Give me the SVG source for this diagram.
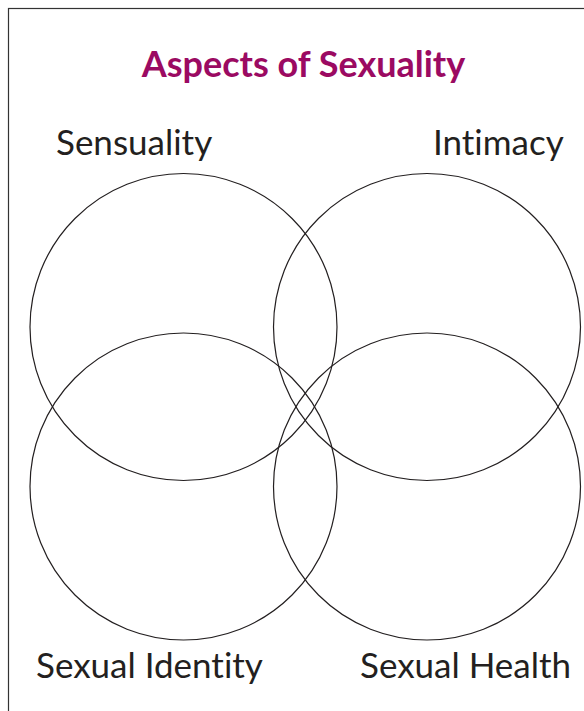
<svg xmlns="http://www.w3.org/2000/svg" width="584" height="711" viewBox="0 0 584 711">
  <style>
    .frame { fill: none; stroke: #333; stroke-width: 1.2; }
    .ring { fill: none; stroke: #231f20; stroke-width: 1.2; }
    text { font-variant-ligatures: none; }
    .title { font-family: Lato, "Open Sans", sans-serif; font-weight: bold; font-size: 36px; fill: #9b0a62; text-anchor: middle; }
    .label { font-family: Lato, "Open Sans", sans-serif; font-size: 35px; fill: #231f20; }
  </style>
  <rect width="584" height="711" fill="#fff"/>
  <!-- outer frame, running off the right and bottom edges -->
  <rect class="frame" x="8.5" y="8.5" width="600" height="720"/>
  <text class="title" x="303.5" y="77">Aspects of Sexuality</text>

  <g id="sensuality">
    <circle class="ring" cx="183.5" cy="327" r="153.5"/>
    <text class="label" x="56" y="155">Sensuality</text>
  </g>
  <g id="intimacy">
    <circle class="ring" cx="427" cy="327" r="153.5"/>
    <text class="label" x="433" y="155">Intimacy</text>
  </g>
  <g id="sexual-identity">
    <circle class="ring" cx="183.5" cy="486.5" r="153.5"/>
    <text class="label" x="36" y="678">Sexual Identity</text>
  </g>
  <g id="sexual-health">
    <circle class="ring" cx="427" cy="486.5" r="153.5"/>
    <text class="label" x="360" y="678">Sexual Health</text>
  </g>
  <g id="connectors"></g>
</svg>
